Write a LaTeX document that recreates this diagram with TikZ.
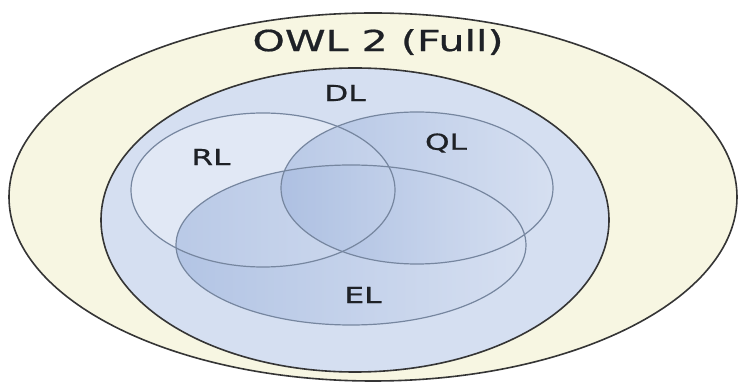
\documentclass[tikz,border=0pt]{standalone}
\usepackage{fontspec}
\setmainfont{DejaVu Sans}[FakeBold=0.6]
\usetikzlibrary{shapes.geometric}

\definecolor{owlfill}{HTML}{F7F6E2}
\definecolor{dlfill}{HTML}{D5DFF1}
\definecolor{setedge}{HTML}{353535}
\definecolor{subedge}{HTML}{76869F}
\definecolor{deepblue}{HTML}{8AA5D6}
\definecolor{paleblue}{HTML}{D7E0F1}
\definecolor{labeltext}{HTML}{1E2126}

\tikzset{
  region/.style={ellipse, inner sep=0pt, outer sep=0pt},
  outerset/.style={region, draw=setedge, line width=1.6pt},
  profile/.style={region, draw=subedge, line width=1.2pt},
  biglabel/.style={text=labeltext, font=\fontsize{29}{34}\selectfont},
  setlabel/.style={text=labeltext, font=\fontsize{22}{26}\selectfont},
}
\newcommand{\wide}[1]{\scalebox{1.42}[1]{#1}}

\begin{document}
\begin{tikzpicture}[x=1pt,y=1pt]
  \fill[white] (0,0) rectangle (740,383);
  \useasboundingbox (0,0) rectangle (740,383);

  % OWL 2 Full and the DL sublanguage
  \node[outerset, fill=owlfill, minimum width=728pt, minimum height=368pt] (owl) at (373,186) {};
  \node[outerset, fill=dlfill, minimum width=508pt, minimum height=304pt] (dl) at (355,163) {};

  % the three profiles, translucent so that overlaps darken
  \node[region, fill=white, fill opacity=0.3, minimum width=264pt, minimum height=154pt] (rlfill) at (263,193) {};
  \node[region, left color=deepblue, right color=paleblue, fill opacity=0.45, minimum width=272pt, minimum height=152pt] (qlfill) at (417,195) {};
  \node[region, left color=deepblue, right color=paleblue, fill opacity=0.45, minimum width=350pt, minimum height=160pt] (elfill) at (351,138) {};

  % outlines of the profiles
  \node[profile, minimum width=264pt, minimum height=154pt] (rl) at (263,193) {};
  \node[profile, minimum width=272pt, minimum height=152pt] (ql) at (417,195) {};
  \node[profile, minimum width=350pt, minimum height=160pt] (el) at (351,138) {};

  % labels
  \node[biglabel] (owllabel) at (378,341) {\wide{OWL 2 (Full)}};
  \node[setlabel] (dllabel) at (345,290) {\wide{DL}};
  \node[setlabel] (rllabel) at (211,226) {\wide{RL}};
  \node[setlabel] (qllabel) at (446,240) {\wide{QL}};
  \node[setlabel] (ellabel) at (363,88) {\wide{EL}};
\end{tikzpicture}
\end{document}
